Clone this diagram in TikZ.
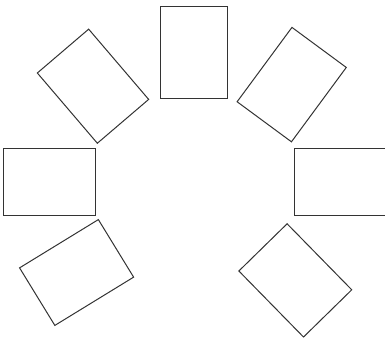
\documentclass[tikz,border=0pt]{standalone}
\usepackage{tikz}
\usetikzlibrary{positioning}
\definecolor{cardline}{HTML}{333333}

\begin{document}
\begin{tikzpicture}[
  x=1pt, y=1pt,
  card/.style={draw=cardline, line width=1pt, rectangle, inner sep=0pt, outer sep=0pt,
    minimum width=67.5pt, minimum height=92.4pt}
]
\useasboundingbox (0,0) rectangle (385,338);
\clip (0,0) rectangle (385,338);

% seven cards laid out round an open ring, each turned to face the middle
\foreach \n/\x/\y/\a in {top/193.8/285.5/0, upleft/93/251.8/40.5, upright/291.7/253.4/-36.4,
    left/49.7/156.2/90, right/340.2/156.2/90, lowleft/76.6/65.5/-58.5, lowright/295.3/57.6/44.4}
  \node[card, rotate=\a] (\n) at (\x,\y) {};
\end{tikzpicture}
\end{document}
